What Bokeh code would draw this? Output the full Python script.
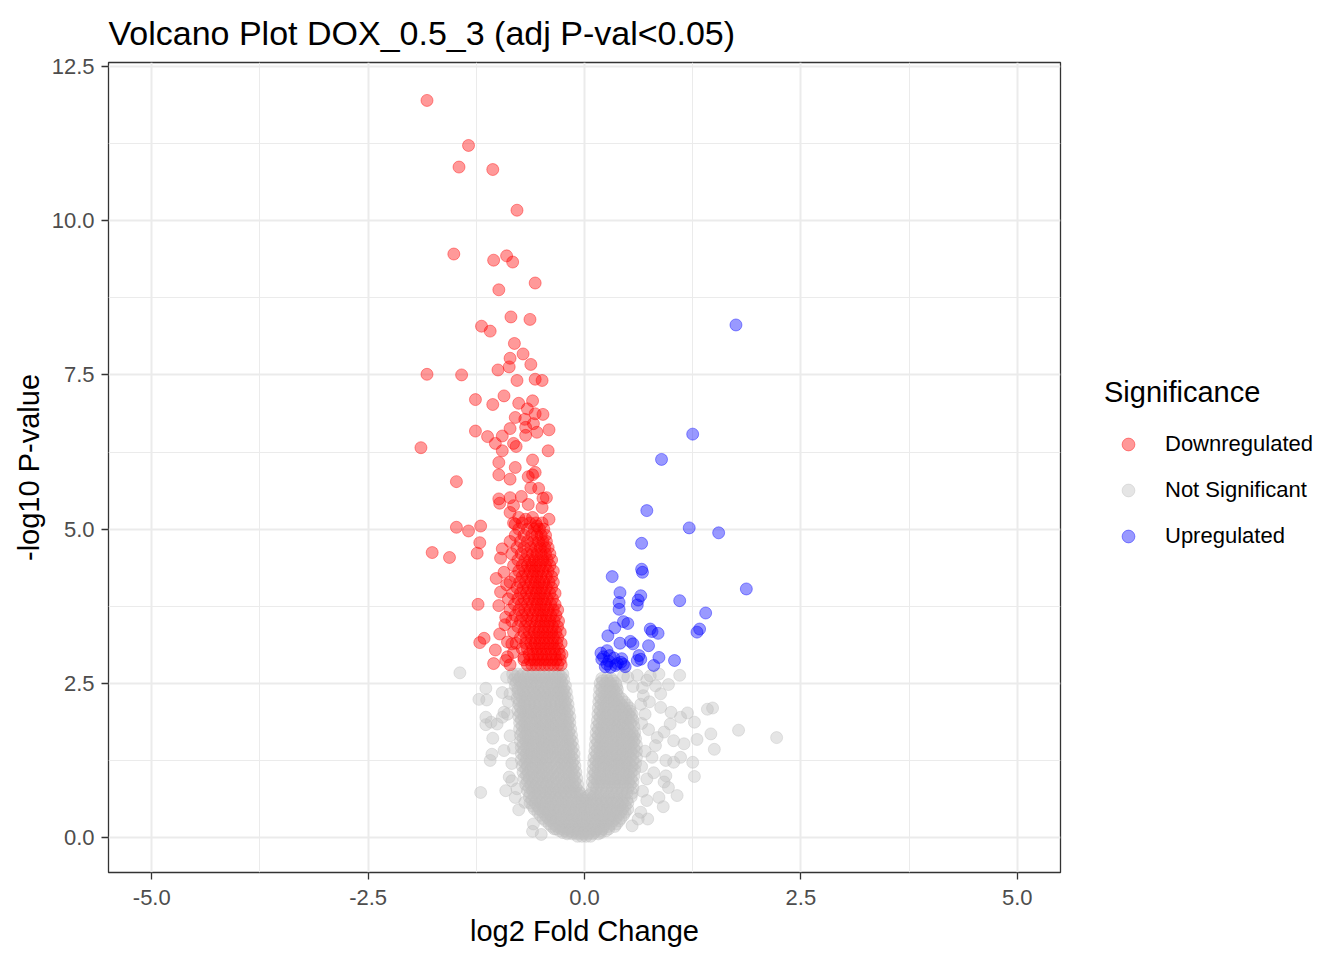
from bokeh.plotting import figure
from bokeh.layouts import row
from bokeh.models import (Range1d, FixedTicker, PrintfTickFormatter, Legend,
                          LegendItem)
from bokeh.embed import file_html
from bokeh.resources import INLINE

FONT = "Liberation Sans"

# ---------------- data ----------------
title_text = "Volcano Plot DOX_0.5_3 (adj P-val<0.05)"
x_label = "log2 Fold Change"
y_label = "-log10 P-value"
legend_title = "Significance"
categories = ["Downregulated", "Not Significant", "Upregulated"]
colors = ["red", "#BEBEBE", "blue"]

x_ticks = [-5.0, -2.5, 0.0, 2.5, 5.0]
x_minor = [-3.75, -1.25, 1.25, 3.75]
y_ticks = [0.0, 2.5, 5.0, 7.5, 10.0, 12.5]
y_minor = [1.25, 3.75, 6.25, 8.75, 11.25]

# Not significant (grey) points: (log2FC, -log10 p)
ns_points = [
    # left lobe
    (-0.83,2.65),(-0.77,2.65),(-0.71,2.65),(-0.65,2.65),(-0.59,2.65),(-0.53,2.65),(-0.47,2.65),(-0.41,2.65),(-0.35,2.65),(-0.30,2.65),(-0.25,2.65),
    (-0.80,2.61),(-0.74,2.61),(-0.68,2.61),(-0.62,2.61),(-0.56,2.61),(-0.50,2.61),(-0.44,2.61),(-0.38,2.61),(-0.32,2.61),(-0.27,2.61),
    (-0.82,2.56),(-0.76,2.56),(-0.70,2.56),(-0.64,2.56),(-0.58,2.56),(-0.52,2.56),(-0.46,2.56),(-0.40,2.56),(-0.34,2.56),(-0.28,2.56),(-0.24,2.56),
    (-0.79,2.51),(-0.73,2.51),(-0.67,2.51),(-0.61,2.51),(-0.55,2.51),(-0.49,2.51),(-0.43,2.51),(-0.37,2.51),(-0.31,2.51),(-0.26,2.51),
    (-0.80,2.46),(-0.74,2.46),(-0.68,2.46),(-0.62,2.46),(-0.56,2.46),(-0.50,2.46),(-0.44,2.46),(-0.38,2.46),(-0.32,2.46),(-0.27,2.46),(-0.22,2.46),
    (-0.77,2.41),(-0.71,2.41),(-0.65,2.41),(-0.59,2.41),(-0.53,2.41),(-0.47,2.41),(-0.41,2.41),(-0.35,2.41),(-0.29,2.41),(-0.24,2.41),
    (-0.77,2.36),(-0.71,2.36),(-0.65,2.36),(-0.59,2.36),(-0.53,2.36),(-0.47,2.36),(-0.41,2.36),(-0.35,2.36),(-0.30,2.36),(-0.25,2.36),(-0.21,2.36),
    (-0.75,2.31),(-0.69,2.31),(-0.63,2.31),(-0.57,2.31),(-0.51,2.31),(-0.45,2.31),(-0.39,2.31),(-0.33,2.31),(-0.27,2.31),(-0.23,2.31),
    (-0.78,2.26),(-0.72,2.26),(-0.66,2.26),(-0.60,2.26),(-0.54,2.26),(-0.48,2.26),(-0.42,2.26),(-0.36,2.26),(-0.30,2.26),(-0.25,2.26),(-0.20,2.26),
    (-0.75,2.21),(-0.69,2.21),(-0.63,2.21),(-0.57,2.21),(-0.51,2.21),(-0.45,2.21),(-0.39,2.21),(-0.33,2.21),(-0.27,2.21),(-0.22,2.21),
    (-0.76,2.16),(-0.70,2.16),(-0.64,2.16),(-0.58,2.16),(-0.52,2.16),(-0.46,2.16),(-0.40,2.16),(-0.34,2.16),(-0.28,2.16),(-0.23,2.16),(-0.19,2.16),
    (-0.74,2.11),(-0.68,2.11),(-0.62,2.11),(-0.56,2.11),(-0.50,2.11),(-0.44,2.11),(-0.38,2.11),(-0.32,2.11),(-0.26,2.11),(-0.21,2.11),
    (-0.77,2.06),(-0.71,2.06),(-0.65,2.06),(-0.59,2.06),(-0.53,2.06),(-0.47,2.06),(-0.41,2.06),(-0.35,2.06),(-0.29,2.06),(-0.23,2.06),(-0.18,2.06),
    (-0.74,2.01),(-0.68,2.01),(-0.62,2.01),(-0.56,2.01),(-0.50,2.01),(-0.44,2.01),(-0.38,2.01),(-0.32,2.01),(-0.26,2.01),(-0.20,2.01),
    (-0.76,1.96),(-0.70,1.96),(-0.64,1.96),(-0.58,1.96),(-0.52,1.96),(-0.46,1.96),(-0.40,1.96),(-0.34,1.96),(-0.28,1.96),(-0.22,1.96),(-0.17,1.96),
    (-0.73,1.91),(-0.67,1.91),(-0.61,1.91),(-0.55,1.91),(-0.49,1.91),(-0.43,1.91),(-0.37,1.91),(-0.31,1.91),(-0.25,1.91),(-0.19,1.91),
    (-0.75,1.86),(-0.69,1.86),(-0.63,1.86),(-0.57,1.86),(-0.51,1.86),(-0.45,1.86),(-0.39,1.86),(-0.33,1.86),(-0.27,1.86),(-0.21,1.86),(-0.17,1.86),
    (-0.72,1.81),(-0.66,1.81),(-0.60,1.81),(-0.54,1.81),(-0.48,1.81),(-0.42,1.81),(-0.36,1.81),(-0.30,1.81),(-0.24,1.81),(-0.19,1.81),
    (-0.75,1.76),(-0.69,1.76),(-0.63,1.76),(-0.57,1.76),(-0.51,1.76),(-0.45,1.76),(-0.39,1.76),(-0.33,1.76),(-0.27,1.76),(-0.21,1.76),(-0.16,1.76),
    (-0.72,1.71),(-0.66,1.71),(-0.60,1.71),(-0.54,1.71),(-0.48,1.71),(-0.42,1.71),(-0.36,1.71),(-0.30,1.71),(-0.24,1.71),(-0.18,1.71),
    (-0.74,1.66),(-0.68,1.66),(-0.62,1.66),(-0.56,1.66),(-0.50,1.66),(-0.44,1.66),(-0.38,1.66),(-0.32,1.66),(-0.26,1.66),(-0.20,1.66),(-0.15,1.66),
    (-0.71,1.61),(-0.65,1.61),(-0.59,1.61),(-0.53,1.61),(-0.47,1.61),(-0.41,1.61),(-0.35,1.61),(-0.29,1.61),(-0.23,1.61),(-0.17,1.61),
    (-0.74,1.56),(-0.68,1.56),(-0.62,1.56),(-0.56,1.56),(-0.50,1.56),(-0.44,1.56),(-0.38,1.56),(-0.32,1.56),(-0.26,1.56),(-0.19,1.56),(-0.14,1.56),
    (-0.71,1.51),(-0.65,1.51),(-0.59,1.51),(-0.53,1.51),(-0.47,1.51),(-0.41,1.51),(-0.35,1.51),(-0.29,1.51),(-0.22,1.51),(-0.16,1.51),
    (-0.73,1.46),(-0.67,1.46),(-0.61,1.46),(-0.55,1.46),(-0.49,1.46),(-0.43,1.46),(-0.37,1.46),(-0.31,1.46),(-0.25,1.46),(-0.18,1.46),(-0.13,1.46),
    (-0.70,1.41),(-0.64,1.41),(-0.58,1.41),(-0.52,1.41),(-0.46,1.41),(-0.40,1.41),(-0.34,1.41),(-0.28,1.41),(-0.21,1.41),(-0.15,1.41),
    (-0.73,1.36),(-0.67,1.36),(-0.61,1.36),(-0.55,1.36),(-0.49,1.36),(-0.43,1.36),(-0.37,1.36),(-0.30,1.36),(-0.24,1.36),(-0.18,1.36),(-0.12,1.36),
    (-0.70,1.31),(-0.64,1.31),(-0.58,1.31),(-0.52,1.31),(-0.46,1.31),(-0.40,1.31),(-0.33,1.31),(-0.27,1.31),(-0.21,1.31),(-0.15,1.31),
    (-0.73,1.26),(-0.67,1.26),(-0.61,1.26),(-0.55,1.26),(-0.49,1.26),(-0.43,1.26),(-0.36,1.26),(-0.29,1.26),(-0.23,1.26),(-0.17,1.26),(-0.12,1.26),
    (-0.69,1.21),(-0.63,1.21),(-0.57,1.21),(-0.51,1.21),(-0.45,1.21),(-0.39,1.21),(-0.32,1.21),(-0.26,1.21),(-0.20,1.21),(-0.14,1.21),
    (-0.72,1.16),(-0.66,1.16),(-0.60,1.16),(-0.54,1.16),(-0.48,1.16),(-0.42,1.16),(-0.35,1.16),(-0.28,1.16),(-0.22,1.16),(-0.16,1.16),(-0.11,1.16),
    (-0.68,1.11),(-0.62,1.11),(-0.56,1.11),(-0.50,1.11),(-0.44,1.11),(-0.38,1.11),(-0.31,1.11),(-0.25,1.11),(-0.19,1.11),(-0.13,1.11),
    (-0.71,1.06),(-0.65,1.06),(-0.59,1.06),(-0.53,1.06),(-0.47,1.06),(-0.41,1.06),(-0.34,1.06),(-0.27,1.06),(-0.21,1.06),(-0.15,1.06),(-0.10,1.06),
    (-0.67,1.01),(-0.61,1.01),(-0.55,1.01),(-0.49,1.01),(-0.43,1.01),(-0.37,1.01),(-0.30,1.01),(-0.24,1.01),(-0.18,1.01),(-0.12,1.01),
    (-0.70,0.96),(-0.64,0.96),(-0.58,0.96),(-0.52,0.96),(-0.46,0.96),(-0.40,0.96),(-0.33,0.96),(-0.26,0.96),(-0.20,0.96),(-0.14,0.96),(-0.09,0.96),
    (-0.66,0.91),(-0.60,0.91),(-0.54,0.91),(-0.48,0.91),(-0.42,0.91),(-0.36,0.91),(-0.29,0.91),(-0.23,0.91),(-0.17,0.91),(-0.11,0.91),
    (-0.68,0.86),(-0.62,0.86),(-0.56,0.86),(-0.50,0.86),(-0.44,0.86),(-0.38,0.86),(-0.32,0.86),(-0.25,0.86),(-0.19,0.86),(-0.13,0.86),(-0.08,0.86),
    (-0.64,0.81),(-0.58,0.81),(-0.52,0.81),(-0.46,0.81),(-0.40,0.81),(-0.34,0.81),(-0.28,0.81),(-0.22,0.81),(-0.16,0.81),(-0.10,0.81),
    (-0.66,0.76),(-0.60,0.76),(-0.54,0.76),(-0.48,0.76),(-0.42,0.76),(-0.36,0.76),(-0.30,0.76),(-0.24,0.76),(-0.18,0.76),(-0.12,0.76),(-0.07,0.76),
    # right lobe
    (0.20,2.58),(0.26,2.58),(0.31,2.58),
    (0.21,2.54),(0.27,2.54),(0.33,2.54),
    (0.18,2.50),(0.24,2.50),(0.30,2.50),(0.36,2.50),
    (0.20,2.45),(0.26,2.45),(0.32,2.45),(0.37,2.45),
    (0.175,2.40),(0.23,2.40),(0.29,2.40),(0.34,2.40),(0.38,2.40),
    (0.20,2.35),(0.26,2.35),(0.31,2.35),(0.37,2.35),
    (0.17,2.30),(0.23,2.30),(0.29,2.30),(0.34,2.30),(0.39,2.30),
    (0.19,2.25),(0.25,2.25),(0.31,2.25),(0.37,2.25),(0.43,2.25),
    (0.165,2.20),(0.22,2.20),(0.28,2.20),(0.34,2.20),(0.40,2.20),(0.46,2.20),
    (0.19,2.15),(0.25,2.15),(0.31,2.15),(0.37,2.15),(0.43,2.15),(0.49,2.15),
    (0.16,2.10),(0.22,2.10),(0.28,2.10),(0.34,2.10),(0.40,2.10),(0.46,2.10),(0.52,2.10),
    (0.18,2.05),(0.24,2.05),(0.30,2.05),(0.36,2.05),(0.42,2.05),(0.48,2.05),(0.53,2.05),
    (0.155,2.00),(0.21,2.00),(0.27,2.00),(0.33,2.00),(0.39,2.00),(0.45,2.00),(0.51,2.00),(0.55,2.00),
    (0.18,1.95),(0.24,1.95),(0.30,1.95),(0.36,1.95),(0.42,1.95),(0.48,1.95),(0.54,1.95),
    (0.15,1.90),(0.21,1.90),(0.27,1.90),(0.33,1.90),(0.39,1.90),(0.45,1.90),(0.51,1.90),(0.56,1.90),
    (0.17,1.85),(0.23,1.85),(0.29,1.85),(0.35,1.85),(0.41,1.85),(0.47,1.85),(0.53,1.85),
    (0.14,1.80),(0.20,1.80),(0.26,1.80),(0.32,1.80),(0.38,1.80),(0.44,1.80),(0.50,1.80),(0.57,1.80),
    (0.16,1.75),(0.22,1.75),(0.28,1.75),(0.34,1.75),(0.40,1.75),(0.46,1.75),(0.52,1.75),
    (0.135,1.70),(0.19,1.70),(0.25,1.70),(0.31,1.70),(0.37,1.70),(0.43,1.70),(0.49,1.70),(0.55,1.70),(0.58,1.70),
    (0.16,1.65),(0.22,1.65),(0.28,1.65),(0.34,1.65),(0.40,1.65),(0.46,1.65),(0.52,1.65),(0.57,1.65),
    (0.13,1.60),(0.19,1.60),(0.25,1.60),(0.31,1.60),(0.37,1.60),(0.43,1.60),(0.49,1.60),(0.55,1.60),(0.59,1.60),
    (0.15,1.55),(0.21,1.55),(0.27,1.55),(0.33,1.55),(0.39,1.55),(0.45,1.55),(0.51,1.55),(0.57,1.55),
    (0.125,1.50),(0.18,1.50),(0.24,1.50),(0.30,1.50),(0.36,1.50),(0.42,1.50),(0.48,1.50),(0.54,1.50),(0.60,1.50),
    (0.15,1.45),(0.21,1.45),(0.27,1.45),(0.33,1.45),(0.39,1.45),(0.45,1.45),(0.51,1.45),(0.57,1.45),
    (0.12,1.40),(0.18,1.40),(0.24,1.40),(0.30,1.40),(0.36,1.40),(0.42,1.40),(0.48,1.40),(0.54,1.40),(0.60,1.40),
    (0.14,1.35),(0.20,1.35),(0.26,1.35),(0.32,1.35),(0.38,1.35),(0.44,1.35),(0.50,1.35),(0.56,1.35),
    (0.11,1.30),(0.17,1.30),(0.23,1.30),(0.29,1.30),(0.35,1.30),(0.41,1.30),(0.47,1.30),(0.53,1.30),(0.60,1.30),
    (0.13,1.25),(0.19,1.25),(0.25,1.25),(0.31,1.25),(0.37,1.25),(0.43,1.25),(0.49,1.25),(0.56,1.25),
    (0.105,1.20),(0.16,1.20),(0.22,1.20),(0.28,1.20),(0.34,1.20),(0.40,1.20),(0.46,1.20),(0.52,1.20),(0.59,1.20),
    (0.13,1.15),(0.19,1.15),(0.25,1.15),(0.31,1.15),(0.37,1.15),(0.43,1.15),(0.49,1.15),(0.55,1.15),
    (0.10,1.10),(0.16,1.10),(0.22,1.10),(0.28,1.10),(0.34,1.10),(0.40,1.10),(0.46,1.10),(0.52,1.10),(0.58,1.10),
    (0.12,1.05),(0.18,1.05),(0.24,1.05),(0.30,1.05),(0.36,1.05),(0.42,1.05),(0.48,1.05),(0.54,1.05),
    (0.095,1.00),(0.15,1.00),(0.21,1.00),(0.27,1.00),(0.33,1.00),(0.39,1.00),(0.45,1.00),(0.51,1.00),(0.57,1.00),
    (0.12,0.95),(0.18,0.95),(0.24,0.95),(0.30,0.95),(0.36,0.95),(0.42,0.95),(0.48,0.95),(0.54,0.95),
    (0.09,0.90),(0.15,0.90),(0.21,0.90),(0.27,0.90),(0.33,0.90),(0.39,0.90),(0.45,0.90),(0.51,0.90),(0.56,0.90),
    (0.11,0.85),(0.17,0.85),(0.23,0.85),(0.29,0.85),(0.35,0.85),(0.41,0.85),(0.47,0.85),(0.53,0.85),
    (0.09,0.80),(0.14,0.80),(0.20,0.80),(0.26,0.80),(0.32,0.80),(0.38,0.80),(0.44,0.80),(0.50,0.80),(0.56,0.80),
    # merged base of the V
    (-0.63,0.72),(-0.57,0.72),(-0.51,0.72),(-0.45,0.72),(-0.39,0.72),(-0.33,0.72),(-0.27,0.72),(-0.21,0.72),(-0.15,0.72),(-0.09,0.72),(-0.05,0.72),
    (0.08,0.72),(0.13,0.72),(0.19,0.72),(0.25,0.72),(0.31,0.72),(0.37,0.72),(0.43,0.72),(0.49,0.72),(0.55,0.72),
    (-0.64,0.66),(-0.58,0.66),(-0.52,0.66),(-0.46,0.66),(-0.40,0.66),(-0.34,0.66),(-0.28,0.66),(-0.22,0.66),(-0.16,0.66),(-0.10,0.66),(-0.05,0.68),
    (0.00,0.64),(0.05,0.68),(0.10,0.66),(0.16,0.66),(0.22,0.66),(0.28,0.66),(0.34,0.66),(0.40,0.66),(0.46,0.66),(0.54,0.66),
    (-0.61,0.61),(-0.55,0.61),(-0.49,0.61),(-0.43,0.61),(-0.37,0.61),(-0.31,0.61),(-0.25,0.61),(-0.19,0.61),(-0.13,0.61),(-0.07,0.61),
    (-0.02,0.61),(0.03,0.61),(0.08,0.61),(0.13,0.61),(0.19,0.61),(0.25,0.61),(0.31,0.61),(0.37,0.61),(0.43,0.61),(0.49,0.61),
    (-0.63,0.56),(-0.57,0.56),(-0.51,0.56),(-0.45,0.56),(-0.39,0.56),(-0.33,0.56),(-0.27,0.56),(-0.21,0.56),(-0.15,0.56),(-0.09,0.56),
    (-0.04,0.56),(0.02,0.56),(0.08,0.56),(0.14,0.56),(0.20,0.56),(0.26,0.56),(0.32,0.56),(0.38,0.56),(0.44,0.56),(0.50,0.56),
    (-0.60,0.51),(-0.54,0.51),(-0.48,0.51),(-0.42,0.51),(-0.36,0.51),(-0.30,0.51),(-0.24,0.51),(-0.18,0.51),(-0.12,0.51),(-0.06,0.51),
    (0.00,0.51),(0.05,0.51),(0.11,0.51),(0.17,0.51),(0.23,0.51),(0.29,0.51),(0.35,0.51),(0.41,0.51),(0.47,0.51),
    (-0.58,0.46),(-0.52,0.46),(-0.46,0.46),(-0.40,0.46),(-0.34,0.46),(-0.28,0.46),(-0.22,0.46),(-0.16,0.46),(-0.10,0.46),(-0.04,0.46),
    (0.02,0.46),(0.08,0.46),(0.14,0.46),(0.20,0.46),(0.26,0.46),(0.32,0.46),(0.38,0.46),(0.44,0.46),(0.50,0.46),
    (-0.54,0.41),(-0.48,0.41),(-0.42,0.41),(-0.36,0.41),(-0.30,0.41),(-0.24,0.41),(-0.18,0.41),(-0.12,0.41),(-0.06,0.41),
    (0.00,0.41),(0.06,0.41),(0.12,0.41),(0.18,0.41),(0.24,0.41),(0.30,0.41),(0.36,0.41),(0.42,0.41),(0.47,0.41),
    (-0.51,0.36),(-0.45,0.36),(-0.39,0.36),(-0.33,0.36),(-0.27,0.36),(-0.21,0.36),(-0.15,0.36),(-0.09,0.36),(-0.03,0.36),
    (0.03,0.36),(0.09,0.36),(0.15,0.36),(0.21,0.36),(0.27,0.36),(0.33,0.36),(0.39,0.36),(0.45,0.36),
    (-0.48,0.31),(-0.42,0.31),(-0.36,0.31),(-0.30,0.31),(-0.24,0.31),(-0.18,0.31),(-0.12,0.31),(-0.06,0.31),
    (0.00,0.31),(0.06,0.31),(0.12,0.31),(0.18,0.31),(0.24,0.31),(0.30,0.31),(0.36,0.31),(0.42,0.31),
    (-0.45,0.27),(-0.39,0.27),(-0.33,0.27),(-0.27,0.27),(-0.21,0.27),(-0.15,0.27),(-0.09,0.27),(-0.03,0.27),
    (0.03,0.27),(0.09,0.27),(0.15,0.27),(0.21,0.27),(0.27,0.27),(0.33,0.27),(0.40,0.27),
    (-0.41,0.22),(-0.35,0.22),(-0.29,0.22),(-0.23,0.22),(-0.17,0.22),(-0.11,0.22),(-0.05,0.22),
    (0.01,0.22),(0.07,0.22),(0.13,0.22),(0.19,0.22),(0.25,0.22),(0.31,0.22),(0.37,0.22),
    (-0.38,0.18),(-0.32,0.18),(-0.26,0.18),(-0.20,0.18),(-0.14,0.18),(-0.08,0.18),(-0.02,0.18),
    (0.04,0.18),(0.10,0.18),(0.16,0.18),(0.22,0.18),(0.28,0.18),(0.35,0.18),
    (-0.33,0.14),(-0.27,0.14),(-0.21,0.14),(-0.15,0.14),(-0.09,0.14),(-0.03,0.14),
    (0.03,0.14),(0.09,0.14),(0.15,0.14),(0.21,0.14),(0.28,0.14),
    (-0.29,0.11),(-0.23,0.11),(-0.17,0.11),(-0.11,0.11),(-0.05,0.11),(0.01,0.11),(0.07,0.11),(0.13,0.11),(0.19,0.11),(0.25,0.11),
    (-0.25,0.08),(-0.19,0.08),(-0.13,0.08),(-0.07,0.08),(-0.01,0.08),(0.05,0.08),(0.11,0.08),(0.19,0.08),
    (-0.20,0.06),(-0.14,0.06),(-0.08,0.06),(-0.02,0.06),(0.04,0.06),(0.10,0.06),(0.16,0.06),
    (-0.08,0.02),(-0.03,0.02),(0.02,0.02),(0.07,0.02),
    # scattered grey points, left
    (-1.44,2.67),(-1.14,2.42),(-1.22,2.24),(-1.13,2.23),(-0.95,2.35),(-0.86,2.33),(-0.93,2.03),(-0.89,2.00),
    (-1.14,1.95),(-1.14,1.83),(-1.08,1.87),(-1.01,1.84),(-1.06,1.61),(-0.93,1.41),(-1.07,1.35),(-1.09,1.25),
    (-0.87,0.98),(-0.84,0.92),(-0.91,0.76),(-1.20,0.73),(-0.78,0.79),(-0.69,0.57),(-0.59,0.22),(-0.35,0.14),
    (-0.90,2.60),(-0.88,2.20),(-0.86,1.65),(-0.84,1.20),(-0.82,1.45),(-0.80,0.65),(-0.76,0.45),(-0.60,0.10),
    (-0.50,0.05),(-0.95,1.95),
    # scattered grey points, right
    (1.10,2.63),(0.86,2.65),(0.97,2.48),(0.82,2.46),(0.88,2.33),(0.67,2.43),(0.65,2.16),(0.88,2.11),
    (1.00,2.03),(1.11,1.95),(1.19,2.02),(1.27,1.87),(1.42,2.08),(1.48,2.10),(1.78,1.74),(2.22,1.62),
    (1.46,1.68),(1.50,1.43),(1.30,1.59),(0.99,1.84),(0.92,1.71),(1.03,1.57),(1.15,1.52),(0.84,1.62),
    (0.82,1.49),(0.94,1.25),(1.03,1.22),(1.11,1.30),(1.25,1.22),(1.27,0.99),(0.94,1.00),(0.92,0.90),
    (0.97,0.81),(1.07,0.68),(0.86,0.65),(0.91,0.50),(0.72,0.60),(0.73,0.30),(0.65,0.41),(0.55,0.19),
    (0.50,2.60),(0.61,2.63),(0.72,2.55),(0.68,2.30),(0.75,2.20),(0.70,2.00),(0.66,1.85),(0.74,1.75),
    (0.70,1.40),(0.78,1.30),(0.66,1.15),(0.72,0.95),(0.80,1.05),(0.62,0.30),(0.67,0.75),(0.76,2.62),
    (0.56,2.45),(0.45,2.62),
]

# Downregulated (red) points
down_points = [
    # isolated points
    (-1.82,11.95),(-1.34,11.22),(-1.45,10.87),(-1.06,10.83),(-0.78,10.17),(-1.51,9.46),(-1.05,9.36),(-0.90,9.43),
    (-0.83,9.33),(-0.57,8.99),(-0.99,8.88),(-0.85,8.44),(-0.63,8.40),(-1.19,8.29),(-1.09,8.21),(-0.81,8.01),
    (-0.71,7.84),(-0.86,7.77),(-0.62,7.67),(-0.87,7.63),(-1.00,7.58),(-1.82,7.51),(-1.42,7.50),(-0.78,7.41),
    (-0.57,7.43),(-0.49,7.41),(-1.26,7.10),(-0.93,7.16),(-1.06,7.02),(-0.76,7.04),(-0.60,7.08),(-0.66,6.95),
    (-0.57,6.87),(-0.48,6.86),(-0.80,6.81),(-0.69,6.78),(-0.59,6.71),(-0.68,6.65),(-0.86,6.63),(-1.26,6.59),
    (-0.55,6.57),(-0.41,6.61),(-1.12,6.50),(-0.95,6.51),(-0.68,6.52),(-1.03,6.39),(-0.82,6.39),(-0.79,6.34),
    (-1.89,6.32),(-0.95,6.27),(-0.42,6.27),(-0.60,6.12),(-0.99,6.08),(-0.80,6.00),(-0.57,5.92),(-0.65,5.85),
    (-0.60,5.88),(-0.99,5.88),(-0.86,5.81),(-1.48,5.77),(-0.62,5.67),(-0.53,5.66),(-0.73,5.53),(-0.86,5.51),
    (-0.99,5.49),(-0.48,5.50),(-0.44,5.51),(-0.65,5.40),(-0.82,5.38),(-0.49,5.35),(-0.98,5.42),(-0.86,5.27),
    (-0.41,5.16),(-0.76,5.19),(-0.68,5.16),(-0.60,5.19),(-0.80,5.08),(-0.55,5.05),(-1.48,5.03),(-1.34,4.97),
    (-1.20,5.05),(-1.21,4.78),(-1.24,4.61),(-1.76,4.62),(-1.56,4.54),(-0.95,4.68),(-0.97,4.53),(-1.02,4.20),
    (-1.23,3.78),(-1.21,3.16),(-1.16,3.23),(-1.03,3.04),(-1.05,2.82),(-0.89,2.93),(-0.89,3.17),(-0.84,3.14),
    (-0.82,3.00),(-0.91,2.87),(-0.70,2.92),(-0.97,3.98),(-0.99,3.76),(-0.91,3.57),(-0.92,3.45),(-0.93,4.30),
    (-0.98,3.30),(-0.86,2.80),(-0.90,4.10),
    # dense column
    (-0.66,2.80),(-0.61,2.80),(-0.56,2.80),(-0.51,2.80),(-0.46,2.80),(-0.41,2.80),(-0.36,2.80),(-0.31,2.80),(-0.27,2.80),
    (-0.70,2.88),(-0.63,2.88),(-0.58,2.88),(-0.53,2.88),(-0.48,2.88),(-0.43,2.88),(-0.38,2.88),(-0.33,2.88),(-0.28,2.88),
    (-0.64,2.97),(-0.59,2.97),(-0.54,2.97),(-0.49,2.97),(-0.44,2.97),(-0.39,2.97),(-0.34,2.97),(-0.29,2.97),(-0.26,2.97),
    (-0.72,3.06),(-0.66,3.06),(-0.60,3.06),(-0.55,3.06),(-0.50,3.06),(-0.45,3.06),(-0.40,3.06),(-0.35,3.06),(-0.30,3.06),
    (-0.79,3.15),(-0.68,3.15),(-0.62,3.15),(-0.57,3.15),(-0.52,3.15),(-0.47,3.15),(-0.42,3.15),(-0.37,3.15),(-0.32,3.15),(-0.27,3.15),
    (-0.74,3.24),(-0.67,3.24),(-0.61,3.24),(-0.56,3.24),(-0.51,3.24),(-0.46,3.24),(-0.41,3.24),(-0.36,3.24),(-0.31,3.24),
    (-0.82,3.33),(-0.70,3.33),(-0.64,3.33),(-0.58,3.33),(-0.53,3.33),(-0.48,3.33),(-0.43,3.33),(-0.38,3.33),(-0.33,3.33),(-0.28,3.33),
    (-0.77,3.42),(-0.69,3.42),(-0.63,3.42),(-0.57,3.42),(-0.52,3.42),(-0.47,3.42),(-0.42,3.42),(-0.37,3.42),(-0.31,3.42),
    (-0.84,3.51),(-0.74,3.51),(-0.67,3.51),(-0.61,3.51),(-0.55,3.51),(-0.50,3.51),(-0.45,3.51),(-0.40,3.51),(-0.35,3.51),(-0.30,3.51),
    (-0.80,3.60),(-0.72,3.60),(-0.66,3.60),(-0.60,3.60),(-0.54,3.60),(-0.49,3.60),(-0.44,3.60),(-0.39,3.60),(-0.33,3.60),
    (-0.86,3.69),(-0.76,3.69),(-0.69,3.69),(-0.63,3.69),(-0.57,3.69),(-0.52,3.69),(-0.47,3.69),(-0.42,3.69),(-0.36,3.69),(-0.31,3.69),
    (-0.81,3.78),(-0.73,3.78),(-0.66,3.78),(-0.60,3.78),(-0.55,3.78),(-0.50,3.78),(-0.45,3.78),(-0.39,3.78),(-0.34,3.78),
    (-0.88,3.87),(-0.77,3.87),(-0.70,3.87),(-0.64,3.87),(-0.58,3.87),(-0.53,3.87),(-0.48,3.87),(-0.43,3.87),(-0.37,3.87),
    (-0.83,3.96),(-0.74,3.96),(-0.67,3.96),(-0.61,3.96),(-0.56,3.96),(-0.51,3.96),(-0.46,3.96),(-0.40,3.96),(-0.34,3.96),
    (-0.78,4.05),(-0.71,4.05),(-0.65,4.05),(-0.59,4.05),(-0.54,4.05),(-0.49,4.05),(-0.44,4.05),(-0.38,4.05),
    (-0.86,4.14),(-0.75,4.14),(-0.68,4.14),(-0.62,4.14),(-0.57,4.14),(-0.52,4.14),(-0.47,4.14),(-0.41,4.14),(-0.36,4.14),
    (-0.80,4.23),(-0.72,4.23),(-0.66,4.23),(-0.60,4.23),(-0.55,4.23),(-0.50,4.23),(-0.44,4.23),(-0.38,4.23),
    (-0.76,4.32),(-0.69,4.32),(-0.63,4.32),(-0.58,4.32),(-0.53,4.32),(-0.48,4.32),(-0.42,4.32),(-0.36,4.32),
    (-0.82,4.41),(-0.72,4.41),(-0.66,4.41),(-0.61,4.41),(-0.56,4.41),(-0.51,4.41),(-0.45,4.41),(-0.40,4.41),
    (-0.77,4.50),(-0.69,4.50),(-0.63,4.50),(-0.58,4.50),(-0.53,4.50),(-0.48,4.50),(-0.43,4.50),(-0.38,4.50),
    (-0.84,4.60),(-0.73,4.60),(-0.66,4.60),(-0.60,4.60),(-0.55,4.60),(-0.50,4.60),(-0.45,4.60),(-0.40,4.60),
    (-0.78,4.70),(-0.70,4.70),(-0.62,4.70),(-0.56,4.70),(-0.51,4.70),(-0.46,4.70),(-0.42,4.70),
    (-0.86,4.80),(-0.74,4.80),(-0.66,4.80),(-0.59,4.80),(-0.53,4.80),(-0.48,4.80),(-0.44,4.80),
    (-0.80,4.90),(-0.70,4.90),(-0.61,4.90),(-0.55,4.90),(-0.50,4.90),(-0.45,4.90),
    (-0.76,5.00),(-0.66,5.00),(-0.58,5.00),(-0.52,5.00),(-0.47,5.00),
    (-0.82,5.10),(-0.72,5.10),(-0.63,5.10),(-0.56,5.10),(-0.49,5.10),
]

# Upregulated (blue) points
up_points = [
    (1.75,8.31),(1.25,6.54),(0.89,6.13),(0.72,5.30),(1.21,5.02),(1.55,4.94),(0.66,4.77),(0.66,4.35),
    (0.67,4.30),(0.32,4.23),(1.87,4.03),(0.41,3.97),(0.40,3.81),(0.40,3.70),(0.65,3.92),(0.62,3.85),
    (0.61,3.77),(1.10,3.84),(1.40,3.64),(0.45,3.50),(0.50,3.47),(0.35,3.40),(0.27,3.27),(0.76,3.38),
    (0.78,3.34),(0.85,3.31),(1.33,3.38),(1.30,3.33),(0.41,3.15),(0.53,3.18),(0.56,3.14),(0.74,3.11),
    (0.19,2.99),(0.26,3.03),(0.29,2.95),(0.20,2.89),(0.34,2.91),(0.42,2.84),(0.45,2.81),(0.63,2.95),
    (0.65,2.89),(0.61,2.87),(0.86,2.92),(1.04,2.87),(0.80,2.79),(0.26,2.81),(0.30,2.76),(0.36,2.79),
    (0.22,2.93),(0.28,2.86),(0.38,2.82),(0.24,2.77),(0.47,2.77),(0.43,2.90),
]

ns_x = [p[0] for p in ns_points]
ns_y = [p[1] for p in ns_points]
down_x = [p[0] for p in down_points]
down_y = [p[1] for p in down_points]
up_x = [p[0] for p in up_points]
up_y = [p[1] for p in up_points]

groups = [(down_x, down_y), (ns_x, ns_y), (up_x, up_y)]

# ---------------- main figure ----------------
p = figure(width=1064, height=956, output_backend="svg", toolbar_location=None,
           x_range=Range1d(-5.5, 5.5), y_range=Range1d(-0.567, 12.565),
           min_border_left=108, min_border_right=4, min_border_top=62,
           min_border_bottom=84)
p.background_fill_color = "white"
p.border_fill_color = "white"
p.outline_line_color = "#333333"
p.outline_line_width = 1.3

p.title.text = title_text
p.title.text_font = FONT
p.title.text_font_size = "34px"
p.title.text_font_style = "normal"
p.title.text_color = "black"
p.title.align = "left"
p.title.standoff = 21

p.xaxis.ticker = FixedTicker(ticks=x_ticks, minor_ticks=x_minor)
p.yaxis.ticker = FixedTicker(ticks=y_ticks, minor_ticks=y_minor)
p.xaxis.formatter = PrintfTickFormatter(format="%.1f")
p.yaxis.formatter = PrintfTickFormatter(format="%.1f")
p.xaxis.axis_label = x_label
p.yaxis.axis_label = y_label
for ax in (p.xaxis, p.yaxis):
    ax.axis_line_color = None
    ax.major_tick_line_color = "#333333"
    ax.major_tick_line_width = 1.3
    ax.major_tick_out = 7
    ax.major_tick_in = 0
    ax.minor_tick_line_color = None
    ax.major_label_text_font = FONT
    ax.major_label_text_font_size = "22px"
    ax.major_label_text_color = "#4D4D4D"
    ax.axis_label_text_font = FONT
    ax.axis_label_text_font_size = "29px"
    ax.axis_label_text_font_style = "normal"
    ax.axis_label_text_color = "black"
p.xaxis.major_label_standoff = 10
p.yaxis.major_label_standoff = 7
p.xaxis.axis_label_standoff = 7
p.yaxis.axis_label_standoff = 4

for g in (p.xgrid, p.ygrid):
    g.grid_line_color = "#EBEBEB"
    g.grid_line_width = 2
    g.minor_grid_line_color = "#EBEBEB"
    g.minor_grid_line_width = 1

style = dict(size=12, fill_alpha=0.4, line_alpha=0.4, line_width=1)
# draw order: not significant first, then down, then up
p.scatter(ns_x, ns_y, fill_color=colors[1], line_color=colors[1], **style)
p.scatter(down_x, down_y, fill_color=colors[0], line_color=colors[0], **style)
p.scatter(up_x, up_y, fill_color=colors[2], line_color=colors[2], **style)

# ---------------- legend (separate panel to the right) ----------------
lg = figure(width=276, height=956, output_backend="svg", toolbar_location=None,
            x_axis_location=None, y_axis_location=None,
            x_range=Range1d(100, 101), y_range=Range1d(100, 101),
            min_border=0)
lg.outline_line_color = None
lg.background_fill_color = "white"
lg.border_fill_color = "white"
lg.grid.visible = False
lg_renderers = []
for (gx, gy), c in zip(groups, colors):
    # same points and style, but the ranges keep them out of view: legend keys only
    lg_renderers.append(lg.scatter(gx, gy, fill_color=c, line_color=c, **style))

legend = Legend(items=[LegendItem(label=lab, renderers=[r])
                       for lab, r in zip(categories, lg_renderers)],
                location=(40, 320))
legend.title = legend_title
legend.title_text_font = FONT
legend.title_text_font_size = "29px"
legend.title_text_font_style = "normal"
legend.title_text_color = "black"
legend.title_standoff = 19
legend.label_text_font = FONT
legend.label_text_font_size = "22px"
legend.label_text_color = "black"
legend.label_text_baseline = "middle"
legend.glyph_width = 48
legend.glyph_height = 32
legend.label_standoff = 13
legend.spacing = 14
legend.padding = 8
legend.margin = 0
legend.background_fill_alpha = 0
legend.border_line_color = None
lg.add_layout(legend, "center")

layout = row(p, lg)
open("out.html", "w").write(file_html(layout, INLINE))
